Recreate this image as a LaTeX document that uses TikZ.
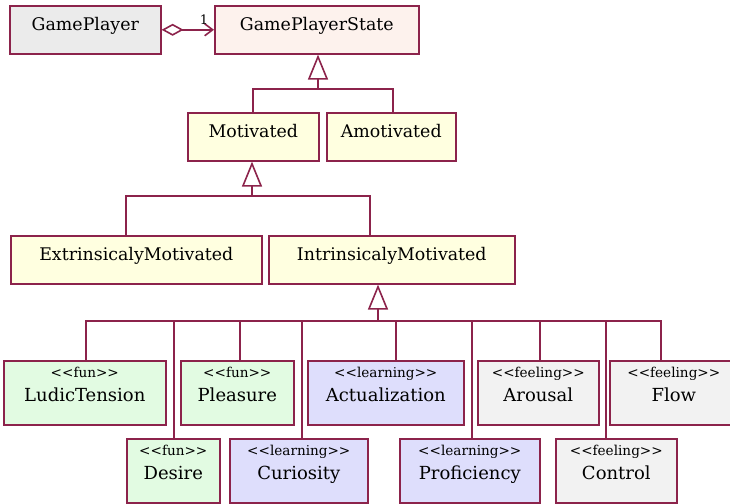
\documentclass[tikz,border=0pt]{standalone}
\usepackage{fontspec}
\setmainfont{DejaVu Serif}[Ligatures=TeXOff]
\usetikzlibrary{arrows.meta}

\definecolor{umlline}{RGB}{140,35,75}
\definecolor{playerfill}{RGB}{235,235,235}
\definecolor{statefill}{RGB}{253,242,237}
\definecolor{classfill}{RGB}{255,255,224}
\definecolor{funfill}{RGB}{226,251,226}
\definecolor{learnfill}{RGB}{222,222,252}
\definecolor{feelfill}{RGB}{242,242,242}

\newcommand{\stereo}[1]{{\fontsize{6.8}{7}\selectfont <<#1>>}}

\begin{document}
\begin{tikzpicture}[
  x=0.5pt, y=-0.5pt,
  every node/.style={font=\fontsize{8.7}{12}\selectfont},
  wd/.style={minimum width=#1*0.5pt},
  cls/.style={draw=umlline, line width=0.8pt, anchor=north west,
    inner xsep=0pt, inner ysep=0pt, text height=12.5pt, text depth=11.5pt},
  stereotyped/.style={cls, align=center, font=\fontsize{9}{12}\selectfont,
    text height=20.5pt, text depth=11.5pt},
  link/.style={draw=umlline, line width=0.8pt},
  gen/.style={link, -{Triangle[open, length=12.5pt, width=10pt]}}
]
  \useasboundingbox (0,0) rectangle (730,504);

  % Top row
  \node (GP) [cls, wd=151, fill=playerfill] at (9,5) {GamePlayer};
  \node (GPS) [cls, wd=204, fill=statefill] at (214,5) {GamePlayerState};

  % States
  \node (Mot) [cls, wd=131, fill=classfill] at (187,112) {Motivated};
  \node (Amot) [cls, wd=129, fill=classfill] at (326,112) {Amotivated};
  \node (Ext) [cls, wd=251, fill=classfill] at (10,235) {ExtrinsicalyMotivated};
  \node (Intr) [cls, wd=246, fill=classfill] at (268,235) {IntrinsicalyMotivated};

  % Motivations, first row
  \node (Ludic) [stereotyped, wd=162, fill=funfill] at (3,360) {\stereo{fun}\\LudicTension};
  \node (Pleas) [stereotyped, wd=113, fill=funfill] at (180,360) {\stereo{fun}\\Pleasure};
  \node (Actu) [stereotyped, wd=156, fill=learnfill] at (307,360) {\stereo{learning}\\Actualization};
  \node (Arou) [stereotyped, wd=121, fill=feelfill] at (477,360) {\stereo{feeling}\\Arousal};
  \node (Flow) [stereotyped, wd=128, fill=feelfill] at (609,360) {\stereo{feeling}\\Flow};

  % Motivations, second row
  \node (Desi) [stereotyped, wd=93, fill=funfill] at (126,438) {\stereo{fun}\\Desire};
  \node (Curi) [stereotyped, wd=138, fill=learnfill] at (229,438) {\stereo{learning}\\Curiosity};
  \node (Prof) [stereotyped, wd=140, fill=learnfill] at (399,438) {\stereo{learning}\\Proficiency};
  \node (Ctrl) [stereotyped, wd=121, fill=feelfill] at (555,438) {\stereo{feeling}\\Control};

  % Aggregation
  \draw [link, {Diamond[open, length=11pt, width=6pt]}-{Straight Barb[length=4pt, width=6pt]}]
    (GP.east) -- (GPS.west)
    node [pos=1, anchor=south east, inner sep=1pt, xshift=-1.5pt, yshift=1.5pt,
      font=\fontsize{6.5}{7}\selectfont] {1};

  % Generalisation joints
  \coordinate (j1) at (318,89);
  \coordinate (j2) at (252,196);
  \coordinate (j3) at (378,321);

  \draw [gen] (j1) -- (j1 |- GPS.south);
  \draw [link] ([xshift=-0.25pt]Mot.north) |- (j1);
  \draw [link] ([xshift=0.75pt]Amot.north) |- (j1);

  \draw [gen] (j2) -- (j2 |- Mot.south);
  \draw [link] ([xshift=-5.25pt]Ext.north) |- (j2);
  \draw [link] ([xshift=-11pt]Intr.north) |- (j2);

  \draw [gen] (j3) -- (j3 |- Intr.south);
  \draw [link] ([xshift=0.5pt]Ludic.north) |- (j3);
  \draw [link] ([xshift=1.25pt]Pleas.north) |- (j3);
  \draw [link] ([xshift=5pt]Actu.north) |- (j3);
  \draw [link] ([xshift=0.75pt]Arou.north) |- (j3);
  \draw [link] ([xshift=-6.5pt]Flow.north) |- (j3);
  \draw [link] ([xshift=0.25pt]Desi.north) |- (j3);
  \draw [link] ([xshift=1.5pt]Curi.north) |- (j3);
  \draw [link] ([xshift=1pt]Prof.north) |- (j3);
  \draw [link] ([xshift=-5.25pt]Ctrl.north) |- (j3);
\end{tikzpicture}
\end{document}
